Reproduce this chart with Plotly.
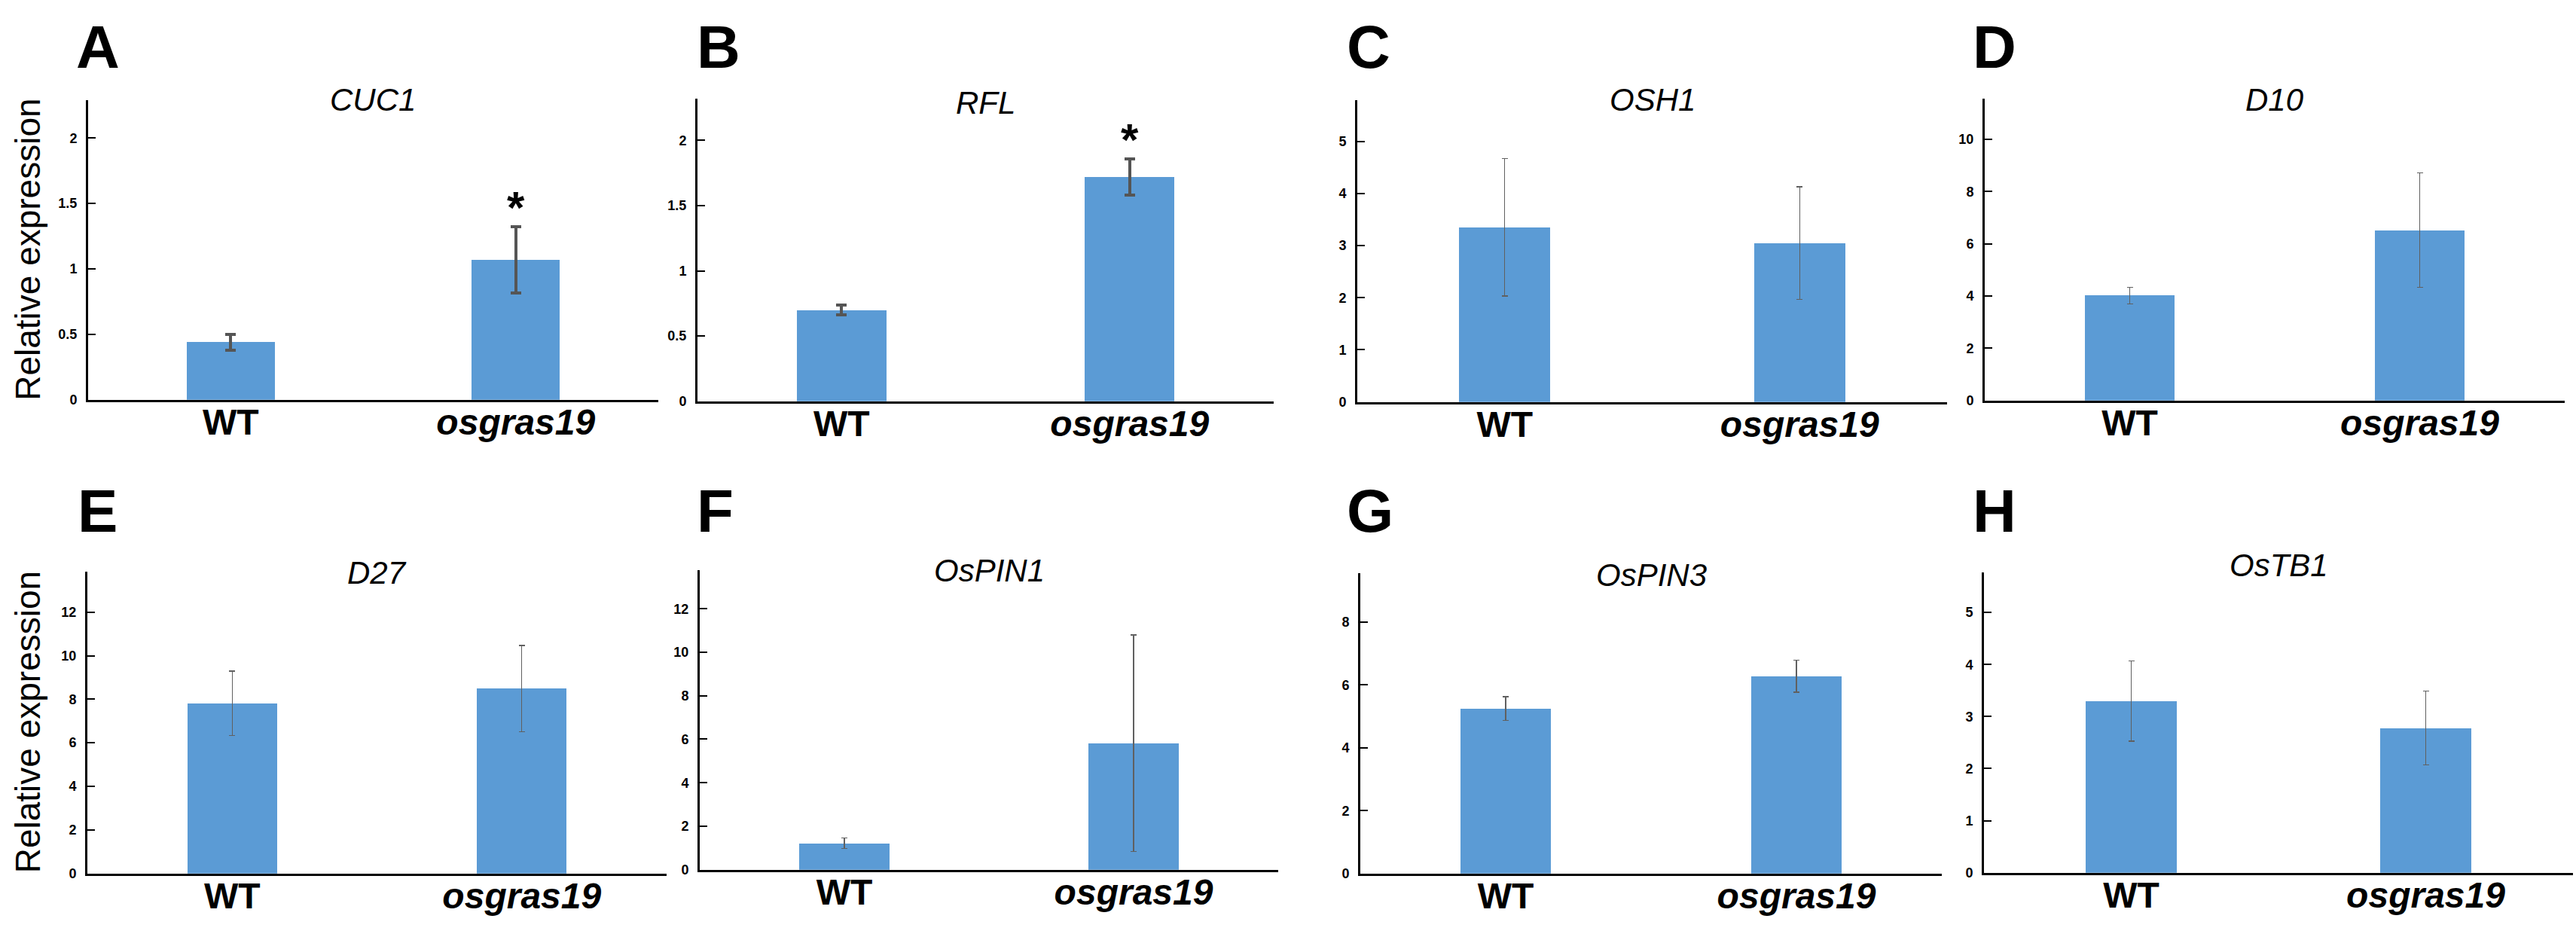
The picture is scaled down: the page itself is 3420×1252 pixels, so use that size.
import plotly.graph_objects as go

# ---------------- data ----------------
panel_letters = ["A", "B", "C", "D", "E", "F", "G", "H"]
genes = ["CUC1", "RFL", "OSH1", "D10", "D27", "OsPIN1", "OsPIN3", "OsTB1"]
categories = ["WT", "osgras19"]
wt_mean = [0.44, 0.70, 3.35, 4.02, 7.81, 1.22, 5.25, 3.30]
wt_err = [0.06, 0.04, 1.32, 0.32, 1.48, 0.25, 0.38, 0.77]
mut_mean = [1.07, 1.72, 3.05, 6.52, 8.49, 5.82, 6.28, 2.78]
mut_err = [0.255, 0.14, 1.08, 2.19, 1.98, 4.98, 0.51, 0.71]
significant = [True, True, False, False, False, False, False, False]
y_max = [2.29, 2.32, 5.79, 11.56, 13.86, 13.78, 9.56, 5.77]
y_dtick = [0.5, 0.5, 1, 2, 2, 2, 2, 1]
y_title = "Relative expression"

# ---------------- layout (pixel boxes: x0, x1, y_top, y_bottom) ----------------
W, H = 3420, 1252
boxes = [
    (117, 874, 134, 535),
    (926, 1691, 132, 537),
    (1802, 2585, 134, 538),
    (2635, 3405, 132, 536),
    (116, 885, 765, 1169),
    (929, 1697, 763, 1164),
    (1806, 2578, 767, 1169),
    (2634, 3416, 766, 1168),
]
title_y = [134, 138, 134, 134, 767, 764, 770, 757]
letter_left = [99, 923, 1786, 2617, 101, 923, 1786, 2617]
letter_y = [63, 63, 63, 63, 684, 684, 684, 684]
thick_err = [True, True, False, False, False, False, False, False]

FONT = "Liberation Sans, Arial, sans-serif"
BAR_COLOR = "#5B9BD5"

fig = go.Figure()
annotations = []

for i in range(8):
    sfx = "" if i == 0 else str(i + 1)
    xref, yref = "x" + sfx, "y" + sfx
    x0, x1, yt, yb = boxes[i]
    fig.add_trace(go.Bar(
        x=categories,
        y=[wt_mean[i], mut_mean[i]],
        width=0.31,
        marker=dict(color=BAR_COLOR, line=dict(width=0)),
        error_y=dict(
            type="data",
            array=[wt_err[i], mut_err[i]],
            color="#555555" if thick_err[i] else "#606060",
            thickness=4 if thick_err[i] else 1.4,
            width=7 if thick_err[i] else 4,
        ),
        xaxis=xref, yaxis=yref,
        showlegend=False,
    ))
    fig.layout["xaxis" + sfx] = dict(
        domain=[x0 / W, x1 / W],
        anchor=yref,
        range=[-0.5, 1.5],
        type="category",
        showline=True, linecolor="black", linewidth=3,
        ticks="", showgrid=False, zeroline=False,
        tickmode="array",
        tickvals=categories,
        ticktext=["<b>WT</b>", "<b><i>osgras19</i></b>"],
        tickfont=dict(family=FONT, size=48, color="black"),
        ticklabelstandoff=-14,
        fixedrange=True,
    )
    fig.layout["yaxis" + sfx] = dict(
        domain=[1 - yb / H, 1 - yt / H],
        anchor=xref,
        range=[0, y_max[i]],
        dtick=y_dtick[i], tick0=0,
        showline=True, linecolor="black", linewidth=3,
        ticks="inside", ticklen=10, tickwidth=1.5, tickcolor="black",
        showgrid=False, zeroline=False,
        tickfont=dict(family=FONT, size=18, color="black", weight="bold"),
        ticklabelstandoff=8,
        fixedrange=True,
    )
    # gene title
    annotations.append(dict(
        text="<i>" + genes[i] + "</i>",
        x=(x0 + x1) / 2 / W, y=1 - title_y[i] / H,
        xref="paper", yref="paper",
        xanchor="center", yanchor="middle",
        showarrow=False,
        font=dict(family=FONT, size=42, color="black"),
    ))
    # panel letter
    annotations.append(dict(
        text="<b>" + panel_letters[i] + "</b>",
        x=letter_left[i] / W, y=1 - letter_y[i] / H,
        xref="paper", yref="paper",
        xanchor="left", yanchor="middle",
        showarrow=False,
        font=dict(family=FONT, size=80, color="black"),
    ))
    # significance
    if significant[i]:
        annotations.append(dict(
            text="<b>*</b>",
            x=categories[1], y=mut_mean[i] + mut_err[i],
            xref=xref, yref=yref,
            xanchor="center", yanchor="bottom",
            yshift=-10,
            showarrow=False,
            font=dict(family=FONT, size=60, color="black"),
        ))

# y-axis titles for first column
for i in (0, 4):
    x0, x1, yt, yb = boxes[i]
    annotations.append(dict(
        text=y_title,
        x=37 / W, y=1 - ((yt + yb) / 2) / H,
        xref="paper", yref="paper",
        xanchor="center", yanchor="middle",
        textangle=-90,
        showarrow=False,
        font=dict(family=FONT, size=46, color="black"),
    ))

fig.update_layout(
    width=W, height=H,
    margin=dict(l=0, r=0, t=0, b=0),
    paper_bgcolor="white",
    plot_bgcolor="white",
    annotations=annotations,
    bargap=0,
)

fig.write_html("out.html", config={"displayModeBar": False})
